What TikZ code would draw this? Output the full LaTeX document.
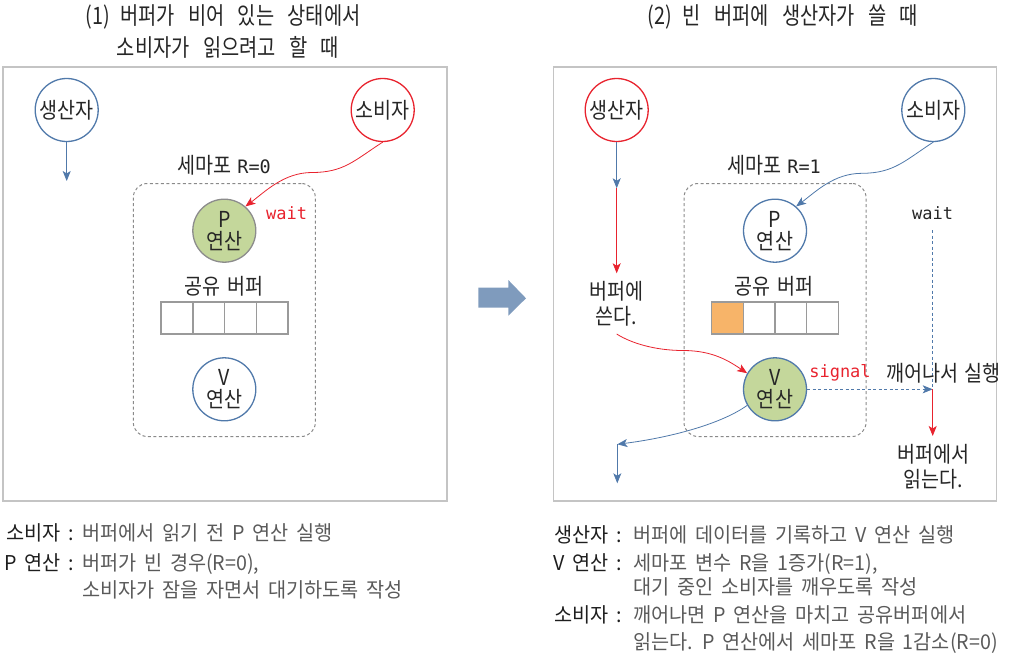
\documentclass[tikz,border=0pt]{standalone}
\usepackage{fontspec}
\setmainfont{Noto Sans CJK KR}
\newfontfamily\diagf[FakeStretch=0.89,WordSpace=1.4]{Noto Sans CJK KR}
\newfontfamily\bodyf[FakeStretch=0.965,WordSpace=1.75]{Noto Sans CJK KR}
\newfontfamily\monof{DejaVu Sans Mono}
\newfontfamily\titlef[FakeStretch=0.825,WordSpace=3]{Noto Sans CJK KR}
\usetikzlibrary{arrows.meta}
\definecolor{cblue}{HTML}{5079AA}
\definecolor{cred}{HTML}{E8232E}
\definecolor{cgreen}{HTML}{C4D79B}
\definecolor{cgraystroke}{HTML}{8C8C8C}
\definecolor{corange}{HTML}{F7B469}
\definecolor{cframe}{HTML}{C4C4C4}
\definecolor{cdash}{HTML}{8A8A8A}
\definecolor{ccell}{HTML}{9A9A9A}
\definecolor{cbig}{HTML}{7F9BBD}
\definecolor{ctxt}{HTML}{5A5A5A}
\definecolor{clab}{HTML}{1E1E1E}
\begin{document}
\begin{tikzpicture}[x=1pt,y=-1pt,
  circ/.style={circle, draw=cblue, line width=1.3pt, minimum size=63pt, inner sep=0pt,
    font=\diagf\fontsize{22}{22}\selectfont, align=center, fill=white, text=black!85},
  framebox/.style={draw=cframe, line width=1.8pt, inner sep=0pt},
  semabox/.style={draw=cdash, line width=1pt, dash pattern=on 3pt off 2.5pt,
    rounded corners=14pt, inner sep=0pt, minimum width=182pt, minimum height=253pt},
  cell/.style={draw=ccell, line width=1.5pt, minimum width=31.7pt, minimum height=32pt, inner sep=0pt},
  arr/.style={-{Stealth[length=10pt,width=8pt,inset=2.5pt]}},
  thin/.style={line width=0.8pt},
  lbl/.style={font=\diagf\fontsize{22}{25}\selectfont, inner sep=0pt, align=center, text=black!85},
  mono/.style={font=\monof\fontsize{17}{21}\selectfont, inner sep=0pt},
  ttl/.style={font=\titlef\fontsize{24}{30}\selectfont, inner sep=0pt, text=black!85},
  blab/.style={font=\bodyf\fontsize{20.4}{22}\selectfont, inner sep=0pt, anchor=base east, text=clab},
  btxt/.style={font=\bodyf\fontsize{20.4}{22}\selectfont, inner sep=0pt, anchor=base west, text=ctxt}
]
\useasboundingbox (0,0) rectangle (1012,661);

% titles
\node[ttl] (t1a) at (223,17) {(1)\hspace{-3pt} 버퍼가 비어 있는 상태에서};
\node[ttl] (t1b) at (228,47) {소비자가 읽으려고 할 때};
\node[ttl] (t2) at (783,17) {(2)\hspace{-3pt} 빈 버퍼에 생산자가 쓸 때};

% frames
\node[framebox, minimum width=444pt, minimum height=434pt] (frameL) at (225,284) {};
\node[framebox, minimum width=443pt, minimum height=434pt] (frameR) at (775,284) {};

% big arrow
\fill[cbig] (478.3,287.7) -- (508.3,287.7) -- (508.3,280) -- (526,298.3) -- (508.3,315.7) -- (508.3,307.7) -- (478.3,307.7) -- cycle;

% ---------- left panel ----------
\node[semabox] (semaL) at (224.3,310) {};
\node[circ] (prodL) at (66.7,110) {생산자};
\node[circ, draw=cred] (consL) at (382.7,110) {소비자};
\coordinate (pL) at (66.7,181);
\draw[arr, cblue, thin] (prodL) -- (pL);
\node[lbl] (semlabL) at (224,165) {세마포 {\monof\fontsize{18.5}{21}\selectfont R=0}};
\node[circ, draw=cgraystroke, fill=cgreen] (PL) at (224.3,230.7) {P\\연산};
\node[mono, text=cred] (waitL) at (286.7,212.7) {wait};
\coordinate (mL) at (312,172.5);
\draw[cred, thin, arr] (consL.south) .. controls +(-28,18) and +(32,0) .. (mL)
   .. controls +(-28,0) and +(20,-15) .. (PL.49);
\node[lbl] (bufL) at (224,286.7) {공유 버퍼};
\node[cell] (cL1) at (176.9,318) {};
\node[cell] (cL2) at (208.6,318) {};
\node[cell] (cL3) at (240.4,318) {};
\node[cell] (cL4) at (272.1,318) {};
\node[circ] (VL) at (224.3,389.3) {V\\연산};

% ---------- right panel ----------
\node[semabox] (semaR) at (775,310) {};
\node[circ, draw=cred] (prodR) at (616.7,110) {생산자};
\node[circ] (consR) at (933.3,110) {소비자};
\coordinate (r1) at (616.7,188.3);
\coordinate (r2) at (616.7,273.3);
\draw[arr, cblue, thin] (prodR) -- (r1);
\draw[arr, cred, thin] (r1) -- (r2);
\node[lbl] (write) at (616.7,304) {버퍼에\\쓴다.};
\node[lbl] (semlabR) at (774,165) {세마포 {\monof\fontsize{18.5}{21}\selectfont R=1}};
\node[circ] (PR) at (775,230.7) {P\\연산};
\coordinate (mR) at (862,173.3);
\draw[cblue, thin, arr] (consR.south) .. controls +(-28,18) and +(32,0) .. (mR)
   .. controls +(-28,0) and +(20,-15) .. (PR.49);
\node[mono, text=black!85] (waitR) at (932.7,212.7) {wait};
\coordinate (w1) at (932.7,230);
\coordinate (w2) at (932.7,389.3);
\draw[cblue, thin, dash pattern=on 3pt off 2.5pt] (w1) -- (w2);
\node[lbl] (bufR) at (774,286.7) {공유 버퍼};
\node[cell, fill=corange] (cR1) at (727.5,318) {};
\node[cell] (cR2) at (759.2,318) {};
\node[cell] (cR3) at (790.8,318) {};
\node[cell] (cR4) at (822.5,318) {};
\node[circ, fill=cgreen] (VR) at (775,389.3) {V\\연산};
\node[mono, text=cred] (signal) at (840,373.3) {signal};
\node[lbl] (wake) at (943.3,373.3) {깨어나서 실행};
\draw[cblue, thin, dash pattern=on 3pt off 2.5pt, arr] (VR.east) -- (w2);
\coordinate (w3) at (932.7,436);
\draw[cred, thin, arr] (w2) -- (w3);
\node[lbl] (read) at (933.3,466.7) {버퍼에서\\읽는다.};
\coordinate (wb) at (616.7,334);
\coordinate (mR2) at (683,350.5);
\draw[cred, thin, arr] (wb) .. controls +(14,9) and +(-28,0) .. (mR2)
   .. controls +(30,0) and +(-18,-12) .. (VR.150);
\coordinate (b1) at (617.3,444.3);
\coordinate (b2) at (617.3,483.3);
\draw[cblue, thin, arr] (VR.210) .. controls +(-25,18) and +(55,-7) .. (b1);
\draw[cblue, thin, arr] (b1) -- (b2);

% ---------- bottom text ----------
\node[blab] (l1) at (74,540) {소비자 :};
\node[btxt] (l1t) at (82,540) {버퍼에서 읽기 전 P 연산 실행};
\node[blab] (l2) at (74,570) {P 연산 :};
\node[btxt] (l2t) at (82,570) {버퍼가 빈 경우(R=0),};
\node[btxt] (l2u) at (82,597) {소비자가 잠을 자면서 대기하도록 작성};

\node[blab] (r1l) at (622,542) {생산자 :};
\node[btxt] (r1t) at (633,542) {버퍼에 데이터를 기록하고 V 연산 실행};
\node[blab] (r2l) at (622,570) {V 연산 :};
\node[btxt] (r2t) at (633,570) {세마포 변수 R을 1증가(R=1),};
\node[btxt] (r2u) at (633,594) {대기 중인 소비자를 깨우도록 작성};
\node[blab] (r3l) at (622,622) {소비자 :};
\node[btxt] (r3t) at (633,622) {깨어나면 P 연산을 마치고 공유버퍼에서};
\node[btxt] (r3u) at (633,649) {읽는다. P 연산에서 세마포 R을 1감소(R=0)};
\end{tikzpicture}
\end{document}
